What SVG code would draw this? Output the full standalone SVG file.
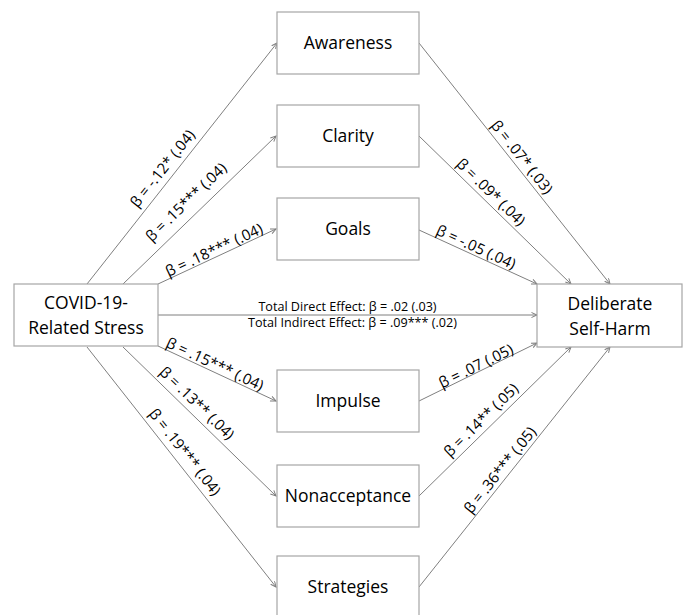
<svg xmlns="http://www.w3.org/2000/svg" width="683" height="615" viewBox="0 0 683 615">
<style>
.box{fill:#fff;stroke:#a6a6a6;stroke-width:1.2}
.nt{font-family:"Open Sans","Liberation Sans",sans-serif;font-size:17.5px;fill:#000;text-anchor:middle}
.lb{font-family:"Open Sans","Liberation Sans",sans-serif;font-size:15px;fill:#000;text-anchor:middle}
.ef{font-family:"Open Sans","Liberation Sans",sans-serif;font-size:12.6px;fill:#000;text-anchor:middle}
.ln{stroke:#7f7f7f;stroke-width:1;fill:none;marker-end:url(#ah)}
</style>
<defs>
<marker id="ah" markerWidth="8" markerHeight="8" refX="6" refY="3" orient="auto" markerUnits="userSpaceOnUse">
<path d="M0.5,0.5 L6,3 L0.5,5.5" fill="none" stroke="#7f7f7f" stroke-width="1"/>
</marker>
</defs>
<rect width="683" height="615" fill="#fff"/>
<g id="connectors">
<line class="ln" x1="87" y1="284" x2="277" y2="43"/>
<line class="ln" x1="123" y1="284" x2="276" y2="136"/>
<line class="ln" x1="158" y1="284" x2="276" y2="229"/>
<line class="ln" x1="158" y1="346" x2="276" y2="401"/>
<line class="ln" x1="123" y1="347" x2="276" y2="496"/>
<line class="ln" x1="87" y1="347" x2="276" y2="587"/>
<line class="ln" x1="419" y1="43" x2="610" y2="284"/>
<line class="ln" x1="419" y1="136" x2="571" y2="284"/>
<line class="ln" x1="419" y1="230" x2="537" y2="284"/>
<line class="ln" x1="419" y1="401" x2="537" y2="343"/>
<line class="ln" x1="419" y1="496" x2="571" y2="347"/>
<line class="ln" x1="419" y1="587" x2="610" y2="347"/>
<line class="ln" x1="158" y1="315" x2="537" y2="315"/>
<text class="lb" transform="translate(162.5,168.5) rotate(-51.7)" dy="0.35em">β = -.12* (.04)</text>
<text class="lb" transform="translate(186,202) rotate(-44)" dy="0.35em">β = .15*** (.04)</text>
<text class="lb" transform="translate(214,250) rotate(-25)" dy="0.35em">β = .18*** (.04)</text>
<text class="lb" transform="translate(522,157) rotate(51.6)" dy="0.35em">β = .07* (.03)</text>
<text class="lb" transform="translate(491,192) rotate(44.2)" dy="0.35em">β = .09* (.04)</text>
<text class="lb" transform="translate(476,247) rotate(24.6)" dy="0.35em">β = -.05 (.04)</text>
<text class="lb" transform="translate(215,364) rotate(25)" dy="0.35em">β = .15*** (.04)</text>
<text class="lb" transform="translate(197,403) rotate(44.2)" dy="0.35em">β = .13** (.04)</text>
<text class="lb" transform="translate(185,452) rotate(51.8)" dy="0.35em">β = .19*** (.04)</text>
<text class="lb" transform="translate(476,366) rotate(-26.2)" dy="0.35em">β = .07 (.05)</text>
<text class="lb" transform="translate(481,420) rotate(-44.4)" dy="0.35em">β = .14** (.05)</text>
<text class="lb" transform="translate(500,470) rotate(-51.5)" dy="0.35em">β = .36*** (.05)</text>
<text class="ef" x="347.5" y="311">Total Direct Effect: β = .02 (.03)</text>
<text class="ef" x="352.5" y="327">Total Indirect Effect: β = .09*** (.02)</text>
</g>
<g id="stress"><rect class="box" x="14" y="284" width="144" height="62"/><text class="nt" x="86" y="309">COVID-19-</text><text class="nt" x="86" y="334">Related Stress</text></g>
<g id="dsh"><rect class="box" x="537" y="284" width="145" height="63"/><text class="nt" x="610" y="310">Deliberate</text><text class="nt" x="610" y="335">Self-Harm</text></g>
<g id="awareness"><rect class="box" x="277" y="12" width="142" height="62"/><text class="nt" x="348" y="49">Awareness</text></g>
<g id="clarity"><rect class="box" x="277" y="105" width="142" height="62"/><text class="nt" x="348" y="142">Clarity</text></g>
<g id="goals"><rect class="box" x="277" y="198" width="142" height="62"/><text class="nt" x="348" y="235">Goals</text></g>
<g id="impulse"><rect class="box" x="277" y="370" width="142" height="62"/><text class="nt" x="348" y="407">Impulse</text></g>
<g id="nonacceptance"><rect class="box" x="277" y="465" width="142" height="62"/><text class="nt" x="348" y="502">Nonacceptance</text></g>
<g id="strategies"><rect class="box" x="277" y="556" width="142" height="62"/><text class="nt" x="348" y="593">Strategies</text></g>
</svg>
